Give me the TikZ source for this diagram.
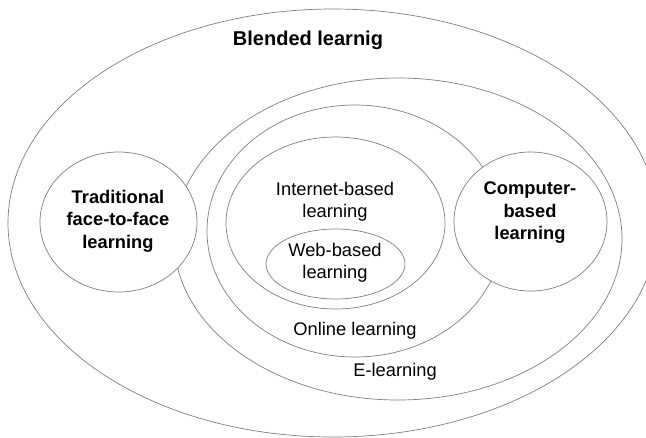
\documentclass[tikz,border=0pt]{standalone}
\usepackage{fontspec}
\setmainfont{Liberation Sans}
\usetikzlibrary{shapes.geometric}
\begin{document}
\begin{tikzpicture}[x=1pt,y=-1pt,
  ring/.style={draw=black!50, line width=0.7pt, ellipse, inner sep=0pt, outer sep=0pt},
  disc/.style={ring, fill=white},
  lbl/.style={font=\fontsize{18.3}{22.5}\selectfont, align=center, inner sep=0pt},
  blbl/.style={font=\fontsize{18.3}{22.5}\selectfont\bfseries, align=center, inner sep=0pt},
  title/.style={font=\fontsize{20}{24}\selectfont\bfseries, inner sep=0pt}]
\useasboundingbox (0,0) rectangle (646,437);
\fill[white] (0,0) rectangle (646,437);
\begin{scope}
\clip (0,0) rectangle (646,437);
\node[ring, minimum width=650, minimum height=428] (blended) at (333,223) {};
\end{scope}
\node[ring, minimum width=448, minimum height=322] (elearn) at (398,239) {};
\node[ring, minimum width=296, minimum height=252] (online) at (355,231) {};
\node[ring, minimum width=219, minimum height=172] (internet) at (335.5,223) {};
\node[ring, minimum width=139, minimum height=70] (web) at (335.5,264) {};
\node[disc, minimum width=157, minimum height=140] (trad) at (118.5,222) {};
\node[disc, minimum width=153, minimum height=139] (comp) at (530.5,221.5) {};

\node[title] (tBlended) at (308,40) {Blended learnig};
\node[blbl] (tTrad) at (118,221) {Traditional\\face-to-face\\learning};
\node[blbl] (tComp) at (530,213) {Computer-\\based\\learning};
\node[lbl] (tInternet) at (335,202) {Internet-based\\learning};
\node[lbl] (tWeb) at (335,263) {Web-based\\learning};
\node[lbl] (tOnline) at (355,331) {Online learning};
\node[lbl] (tElearn) at (395,372) {E-learning};
\end{tikzpicture}
\end{document}
